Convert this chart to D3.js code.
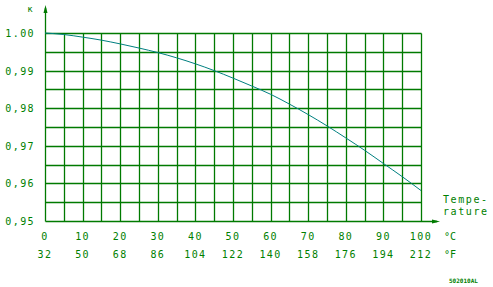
<!DOCTYPE html>
<meta charset="utf-8">
<script src="https://d3js.org/d3.v7.min.js"></script>
<style>
body { margin: 0; background: #fff; }
text { font-family: "DejaVu Sans Mono", monospace; fill: #008000; }
</style>
<div id="chart"></div>
<script>
// data
var tempC = [0, 5, 10, 15, 20, 25, 30, 35, 40, 45, 50, 55, 60, 65, 70, 75, 80, 85, 90, 95, 100];
var kappa = [1.0000, 0.9996, 0.9989, 0.9981, 0.9971, 0.9960, 0.9948, 0.9934, 0.9918, 0.9900, 0.9880,
             0.9859, 0.9837, 0.9811, 0.9783, 0.9753, 0.9721, 0.9688, 0.9653, 0.9618, 0.9581];
var xLabelsC = [0, 10, 20, 30, 40, 50, 60, 70, 80, 90, 100];
var xLabelsF = [32, 50, 68, 86, 104, 122, 140, 158, 176, 194, 212];
var yLabels = ["0,95", "0,96", "0,97", "0,98", "0,99", "1.00"];
var yValues = [0.95, 0.96, 0.97, 0.98, 0.99, 1.00];

var W = 493, H = 287;
var green = "#007a00", teal = "#008080";

var svg = d3.select("#chart").append("svg")
  .attr("width", W).attr("height", H);

var x = d3.scaleLinear().domain([0, 100]).range([45, 421]);
var y = d3.scaleLinear().domain([0.95, 1.0]).range([221, 33]);

// snap to pixel centres so every grid line is 1px wide
function px(v) { return Math.round(v) + 0.5; }

// grid
var grid = svg.append("g").attr("stroke", green).attr("stroke-width", 1.3);
grid.selectAll("line.v").data(d3.range(5, 101, 5)).enter().append("line")
  .attr("x1", function(d) { return px(x(d)); }).attr("x2", function(d) { return px(x(d)); })
  .attr("y1", px(y(0.95))).attr("y2", px(y(1.0)));
grid.selectAll("line.h").data(d3.range(1, 11)).enter().append("line")
  .attr("x1", px(x(0))).attr("x2", px(x(100)))
  .attr("y1", function(d) { return px(y(0.95 + d * 0.005)); })
  .attr("y2", function(d) { return px(y(0.95 + d * 0.005)); });

// axes with arrows
svg.append("line").attr("x1", px(x(0))).attr("x2", px(x(0))).attr("y1", px(y(0.95))).attr("y2", 8)
  .attr("stroke", green).attr("stroke-width", 1.3);
svg.append("path").attr("d", "M" + (px(x(0)) - 2) + ",13 L" + px(x(0)) + ",5 L" + (px(x(0)) + 2) + ",13 Z")
  .attr("fill", green);
svg.append("line").attr("x1", px(x(0))).attr("x2", 437).attr("y1", px(y(0.95))).attr("y2", px(y(0.95)))
  .attr("stroke", green).attr("stroke-width", 1.3);
svg.append("path").attr("d", "M432," + (px(y(0.95)) - 2) + " L440," + px(y(0.95)) + " L432," + (px(y(0.95)) + 2) + " Z")
  .attr("fill", green);

// curve
var line = d3.line()
  .x(function(d, i) { return x(tempC[i]); })
  .y(function(d) { return y(d); })
  .curve(d3.curveMonotoneX);
svg.append("path").datum(kappa).attr("d", line)
  .attr("fill", "none").attr("stroke", teal).attr("stroke-width", 1);

// y labels
svg.selectAll("text.y").data(yValues).enter().append("text")
  .attr("x", 35).attr("y", function(d) { return y(d) + 4; })
  .attr("text-anchor", "end").attr("font-size", 10).attr("letter-spacing", 1.4)
  .text(function(d, i) { return yLabels[i]; });

// x labels
svg.selectAll("text.c").data(xLabelsC).enter().append("text")
  .attr("x", function(d) { return x(d); }).attr("y", 240)
  .attr("text-anchor", "middle").attr("font-size", 10).attr("letter-spacing", 1.4)
  .text(function(d) { return d; });
svg.selectAll("text.f").data(xLabelsF).enter().append("text")
  .attr("x", function(d, i) { return x(xLabelsC[i]); }).attr("y", 258)
  .attr("text-anchor", "middle").attr("font-size", 10).attr("letter-spacing", 1.4)
  .text(function(d) { return d; });

svg.append("text").attr("x", 450).attr("y", 240).attr("text-anchor", "middle")
  .attr("font-size", 10).text("°C");
svg.append("text").attr("x", 450).attr("y", 258).attr("text-anchor", "middle")
  .attr("font-size", 10).text("°F");

svg.append("text").attr("x", 443).attr("y", 203).attr("font-size", 10).attr("letter-spacing", 1.6).text("Tempe-");
svg.append("text").attr("x", 443).attr("y", 215).attr("font-size", 10).attr("letter-spacing", 1.6).text("rature");

svg.append("text").attr("x", 30).attr("y", 12).attr("font-size", 9).attr("text-anchor", "middle").text("κ");

svg.append("text").attr("x", 449).attr("y", 283).attr("font-size", 6).attr("font-weight", "bold")
  .text("502010AL");
</script>
